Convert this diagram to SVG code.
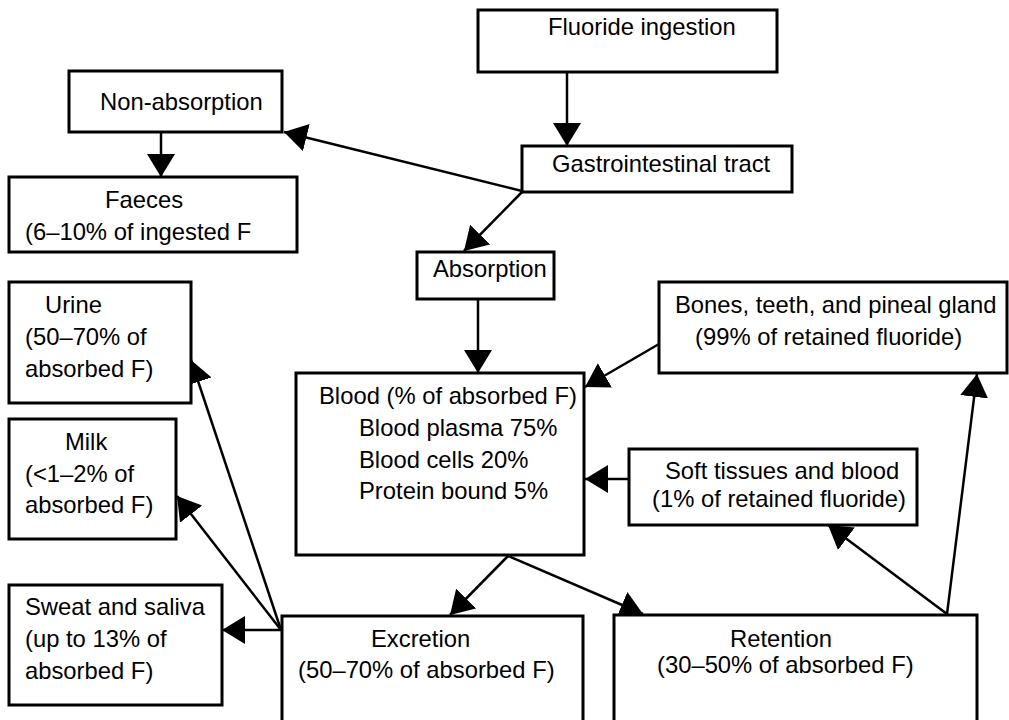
<svg xmlns="http://www.w3.org/2000/svg" width="1009" height="720" viewBox="0 0 1009 720">
<style>
.box{fill:#fff;stroke:#000;stroke-width:3}
.t{font-family:"Liberation Sans",Arial,sans-serif;font-size:23.8px;fill:#000}
.c{stroke:#000;stroke-width:2.5;fill:none;marker-end:url(#ah)}
</style>
<defs>
<marker id="ah" markerUnits="userSpaceOnUse" markerWidth="25" markerHeight="29" refX="23" refY="14" orient="auto" viewBox="0 0 25 29">
<path d="M0,0 L23,14 L0,28 z" fill="#000"/>
</marker>
</defs>
<rect width="1009" height="720" fill="#fff"/>
<g id="connectors">
<line class="c" x1="567" y1="72" x2="567" y2="146"/>
<line class="c" x1="522" y1="191" x2="284" y2="132"/>
<line class="c" x1="161" y1="132" x2="161" y2="177"/>
<line class="c" x1="522" y1="192" x2="464" y2="251"/>
<line class="c" x1="478" y1="299" x2="478" y2="373"/>
<line class="c" x1="659" y1="344" x2="585" y2="387"/>
<line class="c" x1="629" y1="479" x2="585" y2="479"/>
<line class="c" x1="508" y1="556" x2="450" y2="615"/>
<line class="c" x1="508" y1="556" x2="643" y2="614"/>
<line class="c" x1="281" y1="630" x2="222" y2="630"/>
<line class="c" x1="281" y1="630" x2="177" y2="496"/>
<line class="c" x1="281" y1="630" x2="191" y2="360"/>
<line class="c" x1="947" y1="614" x2="828" y2="525"/>
<line class="c" x1="947" y1="614" x2="977" y2="374"/>
</g>
<g id="fluoride-ingestion">
<rect class="box" x="478" y="10" width="299" height="62"/>
<text class="t" x="548" y="35">Fluoride ingestion</text>
</g>
<g id="gastrointestinal-tract">
<rect class="box" x="522" y="146" width="270" height="46"/>
<text class="t" x="552" y="172">Gastrointestinal tract</text>
</g>
<g id="non-absorption">
<rect class="box" x="69" y="71" width="213" height="61"/>
<text class="t" x="100" y="110">Non-absorption</text>
</g>
<g id="faeces">
<rect class="box" x="9" y="177" width="288" height="75"/>
<text class="t" x="105" y="208">Faeces</text>
<text class="t" x="25" y="240">(6–10% of ingested F</text>
</g>
<g id="absorption">
<rect class="box" x="417" y="252" width="137" height="47"/>
<text class="t" x="433" y="277">Absorption</text>
</g>
<g id="urine">
<rect class="box" x="9" y="282" width="182" height="121"/>
<text class="t" x="45" y="313">Urine</text>
<text class="t" x="25" y="345">(50–70% of</text>
<text class="t" x="25" y="377">absorbed F)</text>
</g>
<g id="milk">
<rect class="box" x="9" y="419" width="167" height="120"/>
<text class="t" x="65" y="450">Milk</text>
<text class="t" x="25" y="482">(&lt;1–2% of</text>
<text class="t" x="25" y="513">absorbed F)</text>
</g>
<g id="sweat-saliva">
<rect class="box" x="9" y="585" width="213" height="120"/>
<text class="t" x="25" y="615">Sweat and saliva</text>
<text class="t" x="25" y="647">(up to 13% of</text>
<text class="t" x="25" y="679">absorbed F)</text>
</g>
<g id="blood">
<rect class="box" x="296" y="373" width="288" height="182"/>
<text class="t" x="319" y="404">Blood (% of absorbed F)</text>
<text class="t" x="359" y="436">Blood plasma 75%</text>
<text class="t" x="359" y="468">Blood cells 20%</text>
<text class="t" x="359" y="499">Protein bound 5%</text>
</g>
<g id="bones">
<rect class="box" x="659" y="282" width="348" height="91"/>
<text class="t" x="675" y="313">Bones, teeth, and pineal gland</text>
<text class="t" x="695" y="345">(99% of retained fluoride)</text>
</g>
<g id="soft-tissues">
<rect class="box" x="629" y="449" width="288" height="76"/>
<text class="t" x="665" y="479">Soft tissues and blood</text>
<text class="t" x="652" y="507">(1% of retained fluoride)</text>
</g>
<g id="excretion">
<rect class="box" x="282" y="616" width="301" height="114"/>
<text class="t" x="371" y="647">Excretion</text>
<text class="t" x="298" y="678">(50–70% of absorbed F)</text>
</g>
<g id="retention">
<rect class="box" x="614" y="615" width="363" height="115"/>
<text class="t" x="730" y="647">Retention</text>
<text class="t" x="657" y="673">(30–50% of absorbed F)</text>
</g>
</svg>
